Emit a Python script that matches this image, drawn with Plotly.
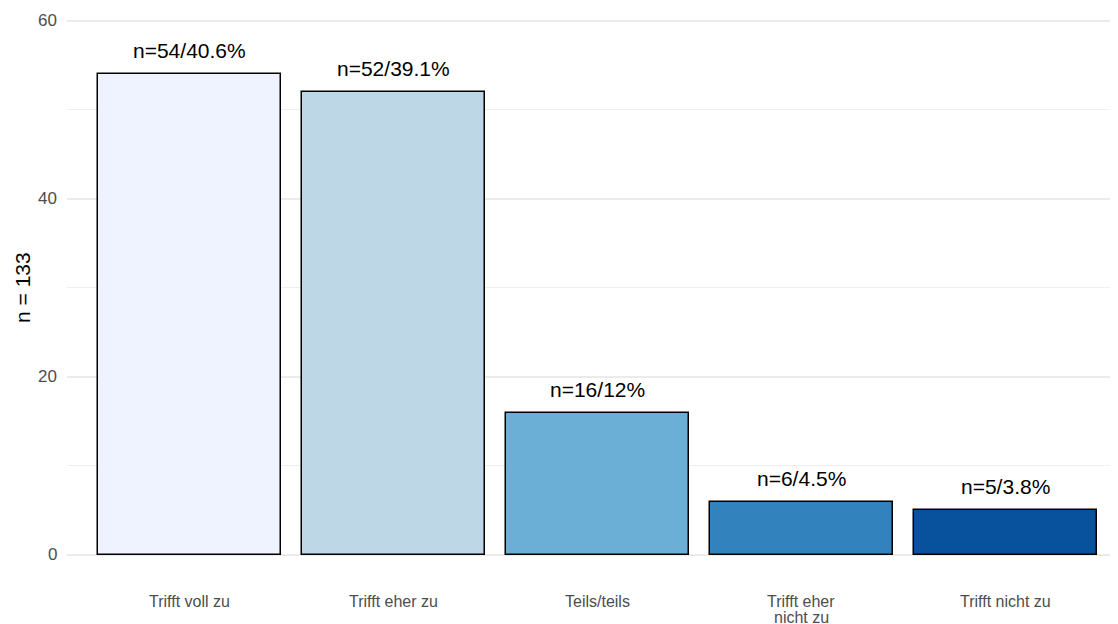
import plotly.graph_objects as go

categories = ["Trifft voll zu", "Trifft eher zu", "Teils/teils", "Trifft eher\nnicht zu", "Trifft nicht zu"]
counts = [54, 52, 16, 6, 5]
labels = ["n=54/40.6%", "n=52/39.1%", "n=16/12%", "n=6/4.5%", "n=5/3.8%"]
colors = ["#EFF3FF", "#BDD7E7", "#6BAED6", "#3182BD", "#08519C"]
y_ticks = [0, 20, 40, 60]
y_minor = [10, 30, 50]
y_title = "n = 133"

x_idx = list(range(len(categories)))
FONT = "Arial, Liberation Sans"

fig = go.Figure()
fig.add_trace(go.Bar(
    x=x_idx, y=counts, width=0.9,
    marker=dict(color=colors, line=dict(color="#000000", width=1.5)),
    showlegend=False, hoverinfo="skip",
))

for xi, v, t in zip(x_idx, counts, labels):
    fig.add_annotation(x=xi, y=v, text=t, showarrow=False, yanchor="bottom",
                       yshift=10, font=dict(family=FONT, size=21, color="#000000"))

# category labels (drawn as text so the line spacing can match)
for xi, cat in zip(x_idx, categories):
    for li, line in enumerate(cat.split("\n")):
        fig.add_annotation(x=xi, xref="x", y=0, yref="paper", text=line, showarrow=False,
                           yanchor="middle", yshift=-22 - 16 * li,
                           font=dict(family=FONT, size=16, color="#4D4D4D"))

# y tick labels
for yv in y_ticks:
    fig.add_annotation(x=0, xref="paper", y=yv, yref="y", text=str(yv), showarrow=False,
                       xanchor="right", yanchor="middle", xshift=-8,
                       font=dict(family=FONT, size=17, color="#4D4D4D"))

# y axis title
fig.add_annotation(x=0, xref="paper", y=30, yref="y", text=y_title, showarrow=False,
                   textangle=-90, xanchor="center", yanchor="middle", xshift=-44,
                   font=dict(family=FONT, size=21, color="#000000"))

fig.update_layout(
    width=1118, height=624,
    margin=dict(l=59, r=0, t=0, b=53),
    plot_bgcolor="white", paper_bgcolor="white",
    font=dict(family=FONT),
    bargap=0,
)
fig.update_xaxes(
    range=[-0.6, 4.591], tickmode="array", tickvals=x_idx, showticklabels=False,
    showgrid=False, zeroline=False, showline=False, ticks="", ticklen=0, automargin=False,
)
fig.update_yaxes(
    range=[-2.7, 61.46], tickmode="array", tickvals=y_ticks, showticklabels=False,
    showgrid=True, gridcolor="#EBEBEB", gridwidth=1.8, zeroline=False, showline=False,
    minor=dict(tickmode="array", tickvals=y_minor, showgrid=True, gridcolor="#EFEFEF", gridwidth=1.2),
    ticks="", ticklen=0, automargin=False,
)

fig.write_html("out.html")
